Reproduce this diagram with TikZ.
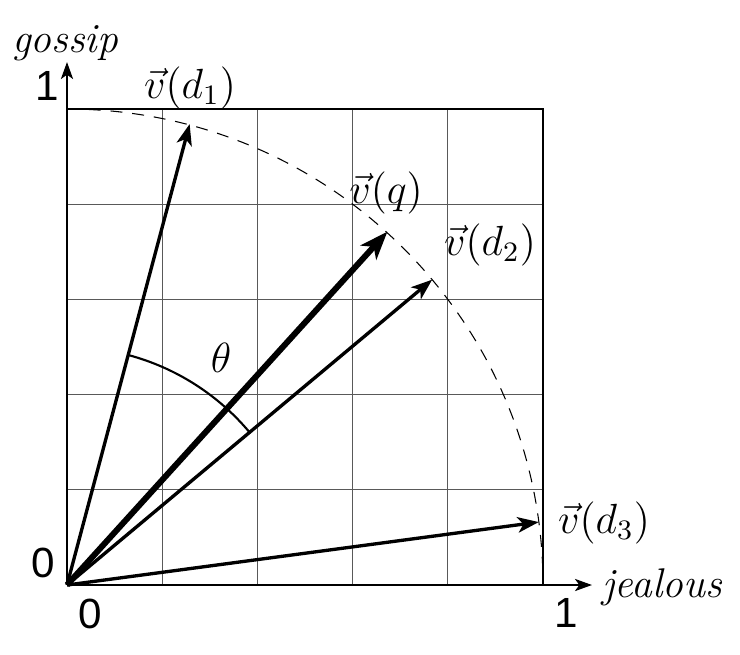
\documentclass[tikz,border=0pt]{standalone}
\usepackage{fontspec}
\newfontfamily\numfont{Liberation Sans}
\usetikzlibrary{arrows.meta}
\begin{document}
\begin{tikzpicture}[x=0.01cm,y=0.01cm,
  gridline/.style={gray!70!black,line width=0.35pt},
  frame/.style={black,line width=0.8pt},
  axis/.style={black,line width=0.8pt,-{Stealth[length=4.8pt,width=3.4pt,inset=1.2pt]}},
  vecline/.style={black,line width=0.95pt,-{Stealth[length=6pt,width=4.4pt,inset=1.6pt]}},
  qline/.style={black,line width=1.7pt,-{Stealth[length=8pt,width=6pt,inset=2.2pt]}},
  unitarc/.style={black,line width=0.3pt,dash pattern=on 3.4pt off 2.8pt},
  lbl/.style={inner sep=0pt,font=\fontsize{11.8}{13}\selectfont},
  numlbl/.style={inner sep=0pt,font=\fontsize{12}{13}\selectfont\numfont}]
\useasboundingbox (0,0) rectangle (740,654);
\coordinate (O) at (67,69);
% grid
\foreach \i in {1,...,4} {
  \draw[gridline] (67+95.2*\i,69) -- (67+95.2*\i,545);
  \draw[gridline] (67,69+95.2*\i) -- (543,69+95.2*\i);
}
\draw[frame] (67,545) -- (543,545) -- (543,69);
% dashed unit arc
\draw[unitarc] (67,545) arc[start angle=90,end angle=0,radius=476];
% axes
\coordinate (xend) at (592,69);
\coordinate (yend) at (67,592);
\draw[axis] (O) -- (xend);
\draw[axis] (O) -- (yend);
% vectors
\path (O) ++(75.1:477) coordinate (d1);
\path (O) ++(47.8:477) coordinate (q);
\path (O) ++(39.9:476) coordinate (d2);
\path (O) ++(7.6:476) coordinate (d3);
\draw[vecline] (O) -- (d1);
\draw[vecline] (O) -- (d2);
\draw[vecline] (O) -- (d3);
\draw[qline] (O) -- (q);
% theta arc
\path (O) ++(75.1:238) coordinate (tha);
\draw[black,line width=0.6pt] (tha) arc[start angle=75.1,end angle=39.9,radius=238];
% labels
\node[lbl] (lgossip) at (65,611) {\itshape gossip};
\node[lbl] (ljealous) at (662,67) {\itshape jealous};
\node[numlbl] (ly1) at (47,568) {1};
\node[numlbl] (ly0) at (43,91) {0};
\node[numlbl] (lx0) at (90,40) {0};
\node[numlbl] (lx1) at (566,41) {1};
\node[lbl] (ld1) at (190,566) {$\vec{v}(d_1)$};
\node[lbl] (lq) at (386,461) {$\vec{v}(q)$};
\node[lbl] (ld2) at (490,409) {$\vec{v}(d_2)$};
\node[lbl] (ld3) at (604,131) {$\vec{v}(d_3)$};
\node[lbl] (lth) at (221,296) {$\theta$};
\end{tikzpicture}
\end{document}
